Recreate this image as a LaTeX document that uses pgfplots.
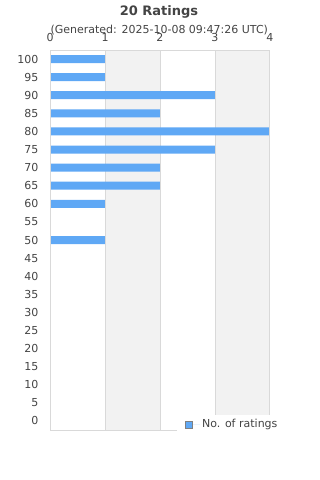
\documentclass[border=0pt]{standalone}
\usepackage{pgfplots}
\pgfplotsset{compat=1.18}
\usepackage{fontspec}
\setmainfont{DejaVu Sans}
\definecolor{barblue}{HTML}{5FA8F5}
\definecolor{bandgray}{HTML}{F2F2F2}
\definecolor{gridgray}{HTML}{D9D9D9}
\definecolor{txt}{HTML}{444444}
\begin{document}
\begin{tikzpicture}
\path[use as bounding box] (0,0) rectangle (320bp,-480bp);
\node[anchor=base, text=txt, font=\fontsize{13bp}{15bp}\selectfont\bfseries] at (159bp,-15.3bp) {20 Ratings};
\node[anchor=base, text=txt, font=\fontsize{11bp}{13bp}\selectfont] at (159.3bp,-33bp) {(Generated: 2025-10-08 09:47:26 UTC)};
\begin{axis}[
  at={(50bp,-430bp)}, anchor=south west,
  scale only axis, width=220bp, height=380bp,
  axis on top,
  xmin=0, xmax=4, ymin=-2.5, ymax=102.5,
  xtick={0,1,2,3,4}, ytick={0,5,...,100},
  xticklabel pos=upper,
  major tick length=0pt,
  axis line style={draw=gridgray, line width=1bp},
  /pgf/number format/assume math mode=true,
  tick label style={font=\fontsize{11bp}{13bp}\selectfont, text=txt, inner sep=0pt},
  xticklabel style={anchor=south, yshift=8.3bp},
  yticklabel style={anchor=east, xshift=-11.5bp},
  legend style={at={(axis description cs:0.575,-0.012)}, anchor=south west, draw=none, fill=white,
    inner xsep=8.5bp, inner ysep=3bp, font=\fontsize{11bp}{13bp}\selectfont, text=txt},
  legend cell align=left,
  legend image code/.code={\path (0bp,0bp) -- (14.5bp,0bp);\draw[fill=barblue,draw=gray,line width=0.8bp] (0bp,-3.5bp) rectangle (7bp,3.5bp);},
]
\fill[bandgray] (axis cs:1,-2.5) rectangle (axis cs:2,102.5);
\fill[bandgray] (axis cs:3,-2.5) rectangle (axis cs:4,102.5);
\draw[gridgray, line width=0.8bp] (axis cs:1,-2.5) -- (axis cs:1,102.5);
\draw[gridgray, line width=0.8bp] (axis cs:2,-2.5) -- (axis cs:2,102.5);
\draw[gridgray, line width=0.8bp] (axis cs:3,-2.5) -- (axis cs:3,102.5);
\addplot[xbar, bar width=8bp, fill=barblue, draw=none] coordinates {
(1,100) (1,95) (3,90) (2,85) (4,80) (3,75) (2,70) (2,65) (1,60) (0,55) (1,50)
(0,45) (0,40) (0,35) (0,30) (0,25) (0,20) (0,15) (0,10) (0,5) (0,0)
};
\addlegendentry{No. of ratings}
\end{axis}
\end{tikzpicture}
\end{document}
